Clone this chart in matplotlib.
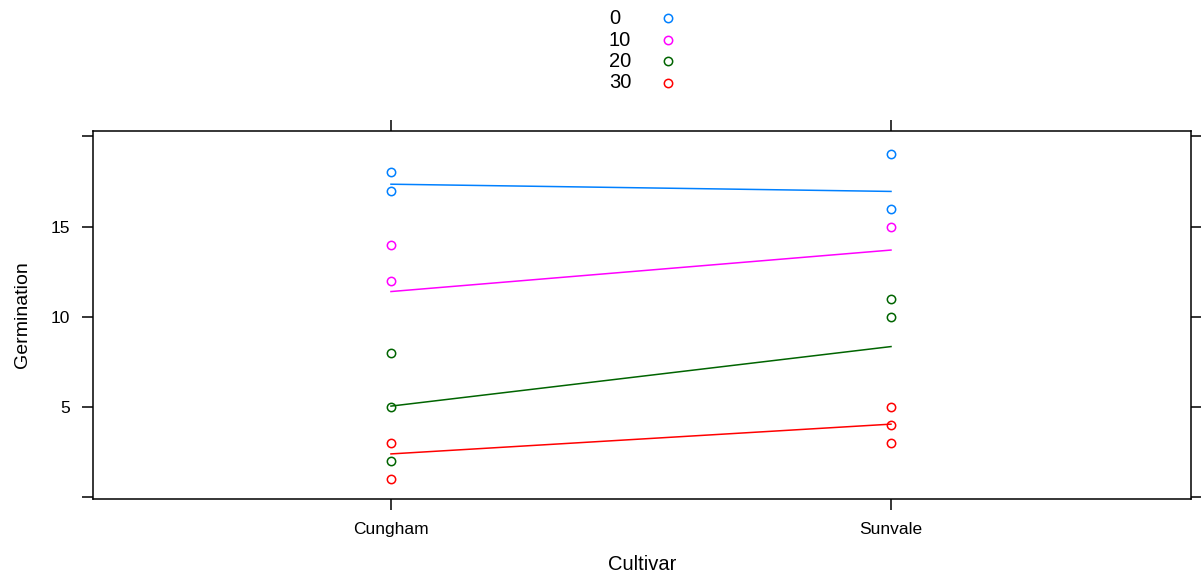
import numpy as np
import matplotlib
matplotlib.use("Agg")
import matplotlib.pyplot as plt
from matplotlib.lines import Line2D

plt.rcParams["font.family"] = ["Liberation Sans", "DejaVu Sans"]

cultivars = ["Cungham", "Sunvale"]
levels = ["0", "10", "20", "30"]
colors = ["#0080ff", "#ff00ff", "#006400", "#ff0000"]

# observed germination counts per level, per cultivar
obs_cungham = {"0": [18, 17], "10": [14, 12], "20": [8, 5, 2], "30": [3, 1]}
obs_sunvale = {"0": [19, 16], "10": [15], "20": [11, 10], "30": [5, 4, 3]}

# fitted values drawn as lines
fit_cungham = [17.35, 11.4, 5.05, 2.4]
fit_sunvale = [16.95, 13.7, 8.35, 4.05]

fig = plt.figure(figsize=(12.01, 5.72), dpi=100)
ax = fig.add_axes([0.0774, 0.1276, 0.9143, 0.6434])

for i, lev in enumerate(levels):
    c = colors[i]
    for xi, obs in enumerate([obs_cungham, obs_sunvale]):
        ys = obs[lev]
        ax.plot([xi] * len(ys), ys, ls="none", marker="o", ms=6,
                mfc="none", mec=c, mew=1.1)
    ax.plot([0, 1], [fit_cungham[i], fit_sunvale[i]], color=c, lw=1.1)

ax.set_xlim(-0.596, 1.6)
ax.set_ylim(-0.1, 20.3)
ax.set_xticks([0, 1])
ax.set_xticklabels(cultivars)
ax.set_yticks([0, 5, 10, 15, 20])
ax.set_yticklabels(["", "5", "10", "15", ""])
ax.tick_params(direction="out", length=8, width=1.1, pad=8.5, labelsize=12.5,
               top=True, right=True, labeltop=False, labelright=False,
               colors="black")
for s in ax.spines.values():
    s.set_linewidth(1.1)
ax.set_xlabel("Cultivar", fontsize=14.5, labelpad=13)
ax.set_ylabel("Germination", fontsize=14, labelpad=14)

# key above the panel: labels left, open-circle symbols right
key_y = [0.9685, 0.930, 0.893, 0.855]
for lab, c, y in zip(levels, colors, key_y):
    fig.text(0.507, y, lab, fontsize=14.5, ha="left", va="center")
    fig.add_artist(Line2D([0.556], [y], ls="none", marker="o", ms=6,
                          mfc="none", mec=c, mew=1.1,
                          transform=fig.transFigure))

fig.savefig("out.png", dpi=100)
